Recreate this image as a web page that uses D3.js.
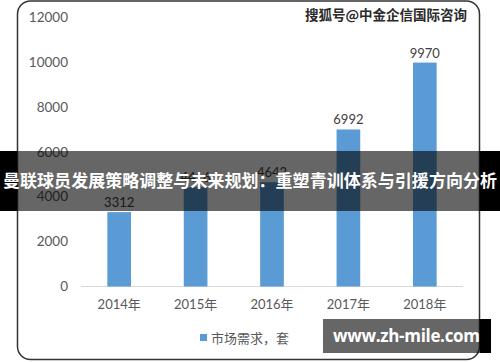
<!DOCTYPE html>
<html>
<head>
<meta charset="utf-8">
<script src="https://cdn.jsdelivr.net/npm/d3@7"></script>
<style>
  body { margin: 0; background: #fff; }
  svg { display: block; }
</style>
</head>
<body>
<div id="chart"></div>
<script>
// data (2015 value is hidden behind the banner, estimated)
var years = ["2014年", "2015年", "2016年", "2017年", "2018年"];
var demand = [3312, 4416, 4642, 6992, 9970];
var yTicks = [0, 2000, 4000, 6000, 8000, 10000, 12000];
var seriesName = "市场需求，套";
var titleText = "曼联球员发展策略调整与未来规划：重塑青训体系与引援方向分析";
var sourceText = "搜狐号@中金企信国际咨询";
var siteText = "www.zh-mile.com";

var W = 500, H = 362;
var numFont = "Lato, 'Noto Sans CJK SC', sans-serif";
var cjkFont = "'Noto Sans CJK SC', sans-serif";

var svg = d3.select("#chart").append("svg")
    .attr("width", W)
    .attr("height", H);

// chart frame
svg.append("rect")
    .attr("x", 17.5).attr("y", 1)
    .attr("width", 462).attr("height", 358.5)
    .attr("rx", 13)
    .attr("fill", "#fff")
    .attr("stroke", "#333")
    .attr("stroke-width", 1.5);

// scales
var x = d3.scaleBand()
    .domain(years)
    .range([81, 463])
    .paddingInner(0.69)
    .paddingOuter(0.345);
var y = d3.scaleLinear()
    .domain([0, 12000])
    .range([286.5, 17]);

// y axis (labels only)
var yAxis = svg.append("g")
    .attr("transform", "translate(68,0)")
    .call(d3.axisLeft(y).tickValues(yTicks).tickFormat(d3.format("d")).tickSize(0).tickPadding(0));
yAxis.select(".domain").remove();
yAxis.selectAll("text")
    .style("font-family", numFont)
    .style("font-size", "13.5px")
    .attr("fill", "#595959");

// x axis
var xAxis = svg.append("g")
    .attr("transform", "translate(0," + y(0) + ")")
    .call(d3.axisBottom(x).tickSize(0).tickPadding(13));
xAxis.select(".domain")
    .attr("stroke", "#d9d9d9")
    .attr("d", "M81,0H463");
xAxis.selectAll("text")
    .style("font-family", numFont)
    .style("font-size", "13px")
    .attr("fill", "#595959");

// bars
svg.selectAll(".bar")
    .data(demand)
    .enter().append("rect")
    .attr("class", "bar")
    .attr("x", function(d, i) { return x(years[i]); })
    .attr("y", function(d) { return y(d); })
    .attr("width", x.bandwidth())
    .attr("height", function(d) { return y(0) - y(d); })
    .attr("fill", "#5b9bd5");

// value labels
svg.selectAll(".val")
    .data(demand)
    .enter().append("text")
    .attr("class", "val")
    .attr("x", function(d, i) { return x(years[i]) + x.bandwidth() / 2; })
    .attr("y", function(d) { return y(d) - 5; })
    .attr("text-anchor", "middle")
    .style("font-family", numFont)
    .style("font-size", "13px")
    .attr("fill", "#404040")
    .text(function(d) { return d; });

// legend
svg.append("rect")
    .attr("x", 200).attr("y", 334)
    .attr("width", 7).attr("height", 7)
    .attr("fill", "#5b9bd5");
svg.append("text")
    .attr("x", 211).attr("y", 342.5)
    .style("font-family", cjkFont)
    .style("font-size", "13px")
    .attr("fill", "#595959")
    .text(seriesName);

// source watermark top right
svg.append("text")
    .attr("x", 305).attr("y", 20)
    .style("font-family", cjkFont)
    .style("font-size", "13.5px")
    .style("font-weight", "bold")
    .attr("fill", "#2a2a2a")
    .attr("textLength", 162)
    .text(sourceText);

// title banner
svg.append("rect")
    .attr("x", 0).attr("y", 151)
    .attr("width", W).attr("height", 60)
    .attr("fill", "rgba(0,0,0,0.6)");
svg.append("rect")
    .attr("x", 0).attr("y", 151)
    .attr("width", 17).attr("height", 60)
    .attr("fill", "#000");
svg.append("rect")
    .attr("x", 480).attr("y", 151)
    .attr("width", 20).attr("height", 60)
    .attr("fill", "#000");
svg.append("text")
    .attr("x", W / 2).attr("y", 187)
    .attr("text-anchor", "middle")
    .style("font-family", cjkFont)
    .style("font-size", "17px")
    .style("font-weight", "bold")
    .attr("fill", "#fff")
    .attr("textLength", 494)
    .text(titleText);

// site box bottom right
svg.append("rect")
    .attr("x", 323).attr("y", 319)
    .attr("width", 157).attr("height", 34)
    .attr("fill", "rgba(0,0,0,0.6)");
svg.append("rect")
    .attr("x", 480).attr("y", 319)
    .attr("width", 11).attr("height", 34)
    .attr("fill", "#000");
svg.append("text")
    .attr("x", 333).attr("y", 342)
    .style("font-family", "'Open Sans', sans-serif")
    .style("font-size", "17px")
    .style("font-weight", "bold")
    .attr("fill", "#fff")
    .attr("textLength", 147)
    .text(siteText);
</script>
</body>
</html>
